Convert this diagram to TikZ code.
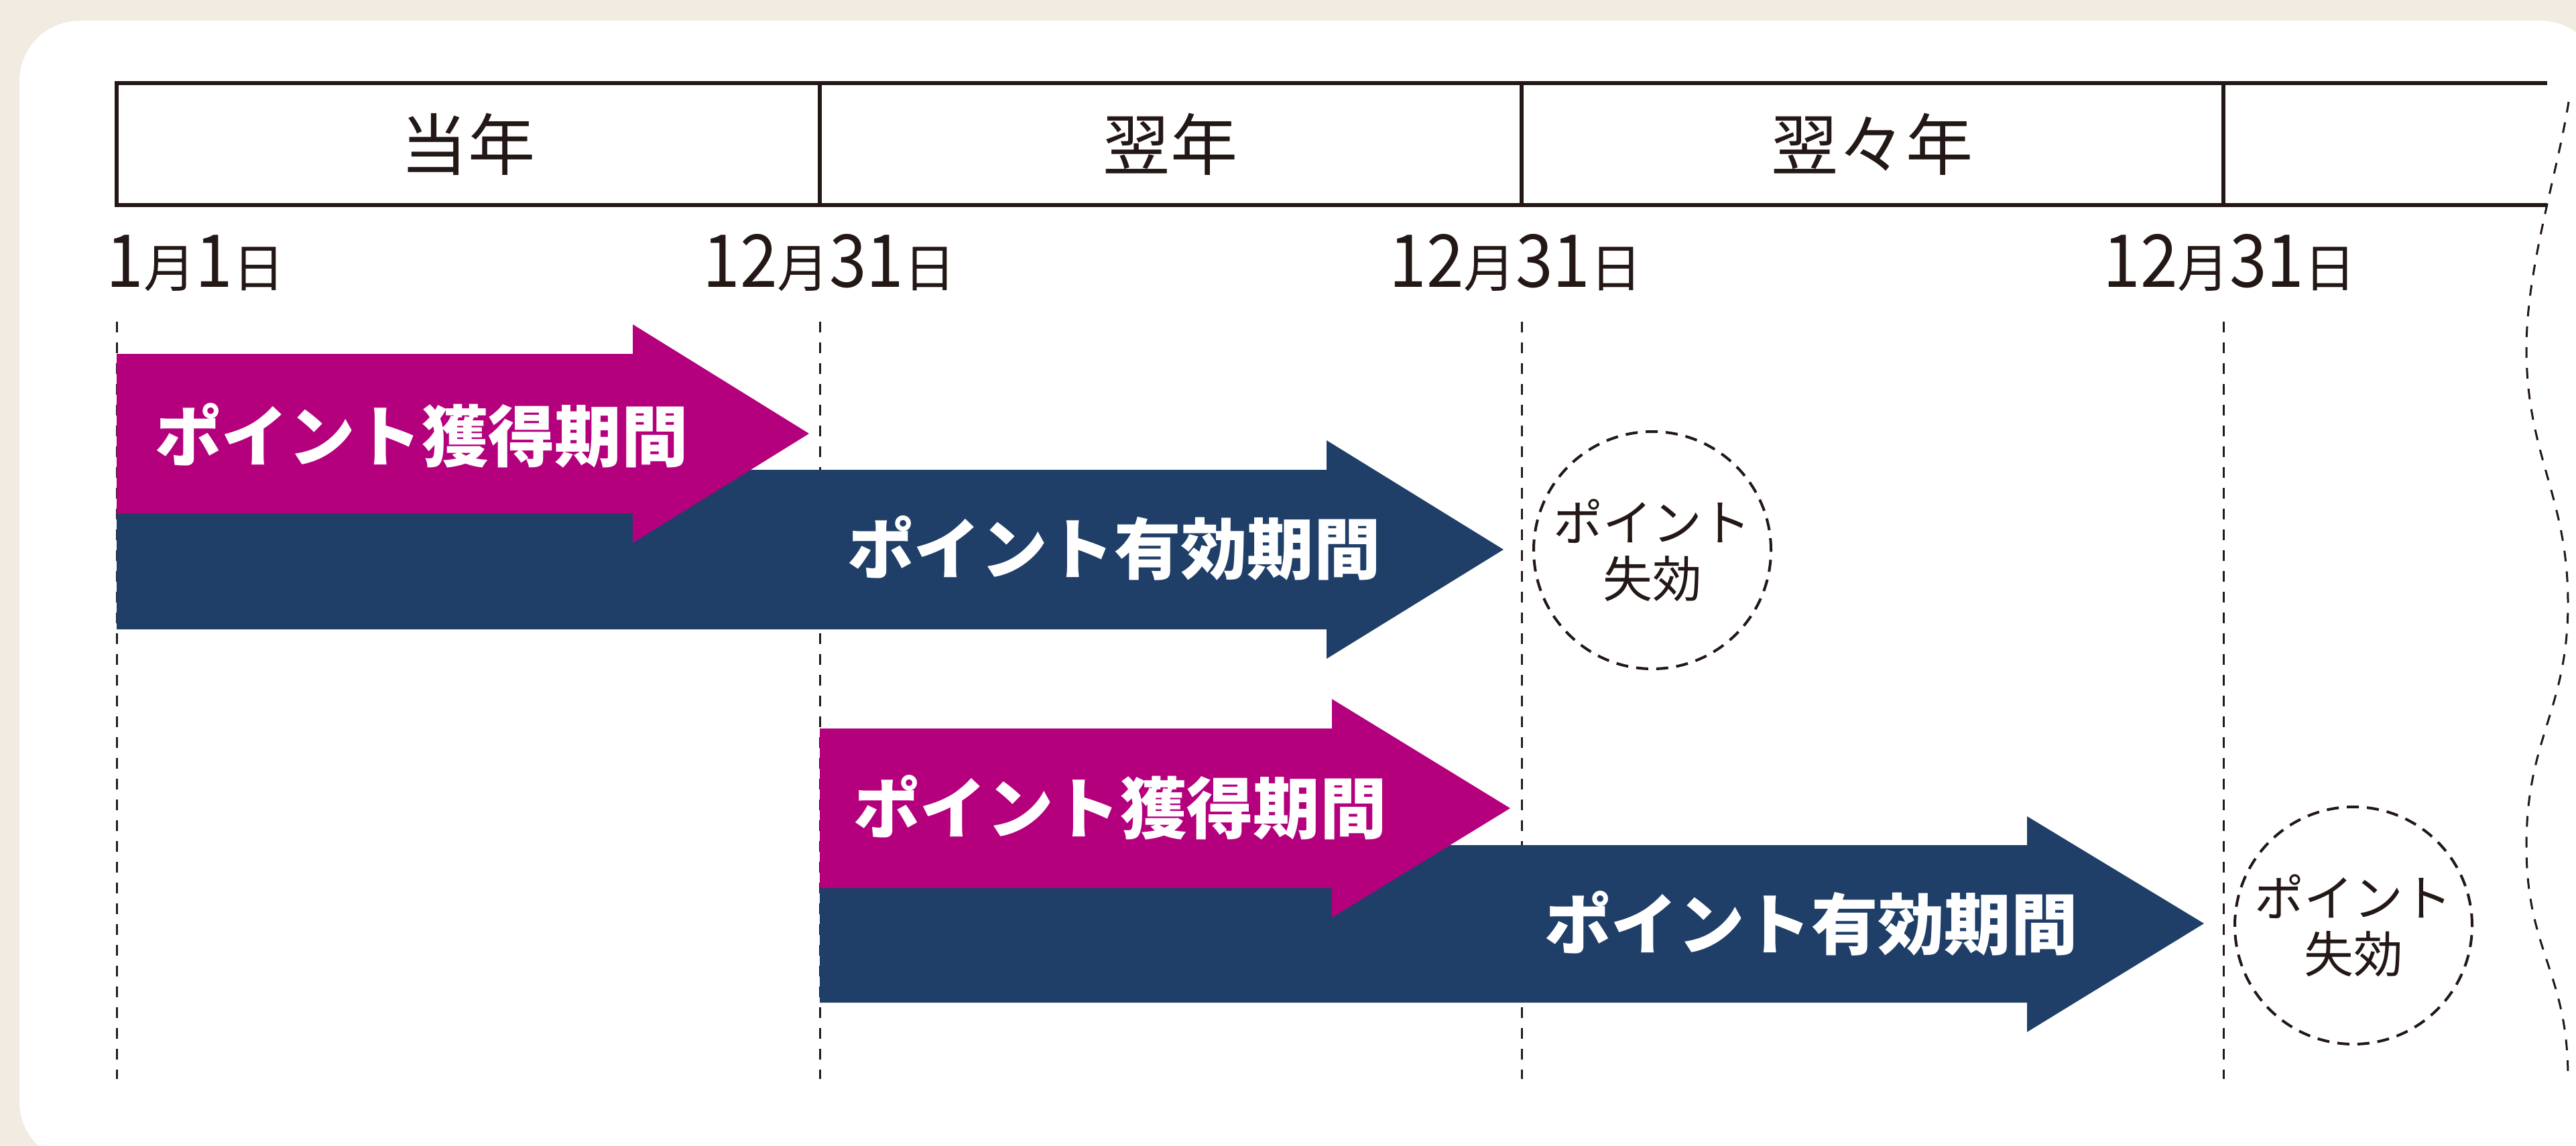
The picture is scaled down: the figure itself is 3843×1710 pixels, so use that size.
\documentclass[tikz,border=0pt]{standalone}
\usepackage{fontspec}
\setmainfont{Noto Sans CJK JP}
\newfontfamily\datefont{Noto Sans CJK JP}[FakeStretch=0.92]
\definecolor{paper}{HTML}{F1EBE1}
\definecolor{gain}{HTML}{B5007E}
\definecolor{valid}{HTML}{1F3F69}
\definecolor{ink}{HTML}{231815}
% date label: big digits, small kanji
\newcommand{\ymd}[2]{{\datefont\fontsize{31}{31}\selectfont #1}{\fontsize{22}{22}\selectfont 月}{\datefont\fontsize{31}{31}\selectfont #2}{\fontsize{22}{22}\selectfont 日}}

\begin{document}
\begin{tikzpicture}[x=0.1mm, y=-0.1mm,
    yearlabel/.style={text=ink, inner sep=0pt, font=\fontsize{28.5}{30}\selectfont},
    datelabel/.style={text=ink, inner sep=0pt, anchor=base},
    gridline/.style={ink, line width=0.6mm},
    guideline/.style={ink, line width=0.3mm, dash pattern=on 1.6mm off 1.5mm},
    gainarrow/.style={fill=gain},
    validarrow/.style={fill=valid},
    arrowtext/.style={text=white, inner sep=0pt, font=\fontsize{28.3}{30}\selectfont\bfseries},
    lapse/.style={circle, draw=ink, line width=0.4mm, dash pattern=on 1.8mm off 1.2mm, minimum size=35.4mm, inner sep=0pt, align=center, text=ink, font=\fontsize{21}{24}\selectfont}]
        \useasboundingbox (0,0) rectangle (3843,1710);
        \fill[paper] (0,0) rectangle (3843,1710);
        \begin{scope}
            \clip (0,0) rectangle (3843,1710);
            \fill[white, rounded corners=9mm] (29,31) rectangle (3880,1734);
        \end{scope}

        % guides and torn edge
        \foreach \x in {174,1223,2270,3317}
            \draw[guideline] (\x,480) -- (\x,1610);
        \draw[guideline] (3832,152) .. controls (3815,260) and (3769,400) .. (3769,520)
            .. controls (3769,680) and (3831,740) .. (3831,900)
            .. controls (3831,1060) and (3769,1100) .. (3769,1262)
            .. controls (3769,1420) and (3831,1450) .. (3831,1608);

        % year header
        \draw[gridline] (3800,124) -- (174,124) -- (174,306) -- (3800,306);
        \foreach \x in {1223,2270,3317}
            \draw[gridline] (\x,124) -- (\x,306);
        \node[yearlabel] (thisyear) at (698,215) {当年};
        \node[yearlabel] (nextyear) at (1746,215) {翌年};
        \node[yearlabel] (yearafter) at (2793,215) {翌々年};

        \node[datelabel, anchor=base west] (jan1) at (158,428) {\ymd{1}{1}};
        \node[datelabel] (dec31a) at (1237,428) {\ymd{12}{31}};
        \node[datelabel] (dec31b) at (2261,428) {\ymd{12}{31}};
        \node[datelabel] (dec31c) at (3326,428) {\ymd{12}{31}};

        % first year
        \fill[validarrow] (174,701) -- (1979,701) -- (1979,657) -- (2243,820) -- (1979,983) -- (1979,939) -- (174,939) -- cycle;
        \fill[gainarrow] (174,528) -- (944,528) -- (944,484) -- (1207,647) -- (944,810) -- (944,766) -- (174,766) -- cycle;
        \node[arrowtext] (gain1) at (629,650) {ポイント獲得期間};
        \node[arrowtext] (valid1) at (1662,818) {ポイント有効期間};
        \node[lapse] (lapse1) at (2465,821) {ポイント\\失効};

        % second year
        \fill[validarrow] (1223,1261) -- (3024,1261) -- (3024,1218) -- (3288,1378) -- (3024,1540) -- (3024,1496) -- (1223,1496) -- cycle;
        \fill[gainarrow] (1223,1087) -- (1987,1087) -- (1987,1043) -- (2253,1206) -- (1987,1369) -- (1987,1325) -- (1223,1325) -- cycle;
        \node[arrowtext] (gain2) at (1671,1205) {ポイント獲得期間};
        \node[arrowtext] (valid2) at (2702,1378) {ポイント有効期間};
        \node[lapse] (lapse2) at (3511,1381) {ポイント\\失効};
\end{tikzpicture}
\end{document}
